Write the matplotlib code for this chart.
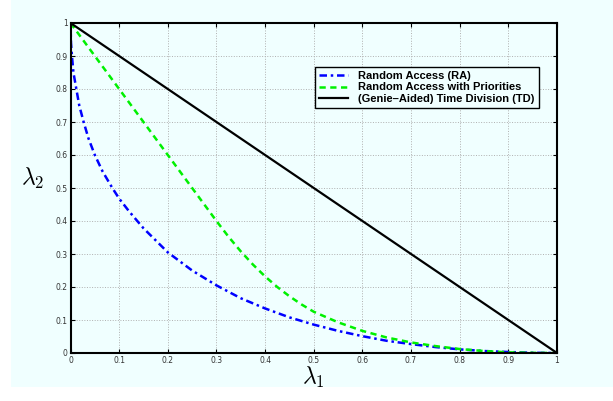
import numpy as np
import matplotlib
matplotlib.use("Agg")
import matplotlib.pyplot as plt
from matplotlib.patches import Rectangle

# values
ra_x = [0, 0.001, 0.003, 0.006, 0.012, 0.018, 0.027, 0.037, 0.05, 0.066, 0.086,
        0.1, 0.12, 0.15, 0.2, 0.25, 0.3, 0.35, 0.4, 0.45, 0.5, 0.55, 0.6,
        0.65, 0.7, 0.75, 0.8, 0.85, 0.9, 0.95, 1.0]
ra_y = [1, 0.94, 0.9, 0.85, 0.8, 0.75, 0.7, 0.65, 0.6, 0.55, 0.5,
        0.468, 0.43, 0.378, 0.305, 0.25, 0.205, 0.166, 0.135, 0.108, 0.086, 0.067, 0.051,
        0.037, 0.027, 0.018, 0.011, 0.006, 0.003, 0.0007, 0]

pr_x = [0, 0.1, 0.2, 0.3, 0.325, 0.35, 0.375, 0.4, 0.425, 0.45, 0.475, 0.5,
        0.55, 0.6, 0.65, 0.7, 0.75, 0.8, 0.85, 0.9, 0.95, 1.0]
pr_y = [1, 0.8, 0.6, 0.4, 0.352, 0.308, 0.268, 0.232, 0.2, 0.172, 0.147, 0.125,
        0.093, 0.067, 0.047, 0.032, 0.021, 0.012, 0.006, 0.002, 0.0005, 0]

td_x = [0, 1]
td_y = [1, 0]

labels = ["Random Access (RA)", "Random Access with Priorities",
          "(Genie\u2013Aided) Time Division (TD)"]
ticks = np.round(np.arange(0, 1.01, 0.1), 1)
tick_labels = ["0", "0.1", "0.2", "0.3", "0.4", "0.5", "0.6", "0.7", "0.8", "0.9", "1"]

bg = "#f0ffff"
plt.rcParams["mathtext.fontset"] = "cm"

fig = plt.figure(figsize=(6.13, 4.01), dpi=100, facecolor="white")
fig.patches.append(Rectangle((11/613, 14/401), 1 - 11/613, 1 - 14/401,
                             transform=fig.transFigure, facecolor=bg,
                             edgecolor="none", zorder=-10))

ax = fig.add_axes([70.5/613, 48/401, 486.5/613, 330/401])
ax.set_facecolor(bg)

ax.plot(ra_x, ra_y, color="blue", lw=1.8, dashes=(3, 1.5, 1, 1.5), label=labels[0])
ax.plot(pr_x, pr_y, color="#00f000", lw=1.8, dashes=(2.5, 1.8), label=labels[1])
ax.plot(td_x, td_y, "-", color="black", lw=1.6, label=labels[2])

ax.set_xlim(0, 1)
ax.set_ylim(0, 1)
ax.set_xticks(ticks)
ax.set_yticks(ticks)
ax.set_xticklabels(tick_labels)
ax.set_yticklabels(tick_labels)
ax.tick_params(direction="in", length=3, width=0.8, top=True, right=True,
               labelsize=5.5, labelcolor="#333333", pad=2)
ax.grid(True, linestyle=":", color="#b0b0b0", lw=0.7)
for s in ax.spines.values():
    s.set_linewidth(1.5)

ax.set_xlabel(r"$\lambda_1$", fontsize=17, labelpad=0)
ax.set_ylabel(r"$\lambda_2$", fontsize=17, rotation=0)
ax.yaxis.set_label_coords(-0.077, 0.53)
ax.yaxis.label.set_va("center")

leg = ax.legend(loc="upper right", bbox_to_anchor=(0.962, 0.866),
                prop={"family": "Liberation Sans", "weight": "bold", "size": 8},
                frameon=True, fancybox=False, edgecolor="black",
                handlelength=2.6, handletextpad=0.9, borderpad=0.35,
                labelspacing=0.12, borderaxespad=0)
leg.get_frame().set_facecolor(bg)
leg.get_frame().set_alpha(1)
leg.get_frame().set_linewidth(1)

fig.savefig("out.png", dpi=100, facecolor="white")
